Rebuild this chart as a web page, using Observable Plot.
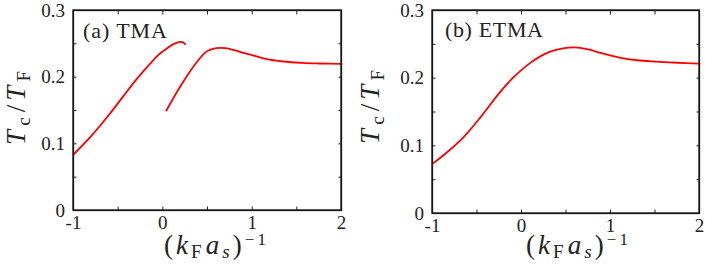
<!DOCTYPE html>
<html>
<head>
<meta charset="utf-8">
<script src="https://cdn.jsdelivr.net/npm/d3@7"></script>
<script src="https://cdn.jsdelivr.net/npm/@observablehq/plot@0.6"></script>
<style>
  html, body { margin: 0; padding: 0; background: #fff; }
  #wrap { display: flex; flex-direction: row; width: 705px; height: 277px; }
  #wrap svg { flex: none; }
</style>
</head>
<body>
<div id="wrap"></div>
<script>
// ---- data ----
const xTicks = [-1, -0.5, 0, 0.5, 1, 1.5, 2];
const xLabels = [-1, 0, 1, 2];
const yTicks = [0, 0.05, 0.1, 0.15, 0.2, 0.25, 0.3];
const yLabels = [0, 0.1, 0.2, 0.3];

const panelTitles = ["(a) TMA", "(b) ETMA"];

// (a) TMA : two branches
const tmaLowX  = [-1, -0.8, -0.6, -0.45, -0.3, -0.15, -0.05, 0.05, 0.12, 0.18, 0.22, 0.25];
const tmaLowY  = [0.084, 0.112, 0.144, 0.170, 0.196, 0.219, 0.2335, 0.2435, 0.2495, 0.2525, 0.2525, 0.2495];
const tmaHighX = [0.04, 0.2, 0.36, 0.48, 0.52, 0.6, 0.7, 0.8, 0.9, 1.0, 1.15, 1.35, 1.55, 1.75, 2.0];
const tmaHighY = [0.150, 0.187, 0.219, 0.2375, 0.2405, 0.2435, 0.2435, 0.2405, 0.2365, 0.2330, 0.2275, 0.2235, 0.2215, 0.2205, 0.2198];

// (b) ETMA
const etmaX = [-1, -0.85, -0.65, -0.45, -0.25, -0.1, 0.1, 0.3, 0.45, 0.6, 0.75, 0.9, 1.1, 1.3, 1.5, 1.75, 2.0];
const etmaY = [0.0733, 0.089, 0.113, 0.144, 0.178, 0.200, 0.2226, 0.238, 0.2435, 0.2455, 0.2425, 0.237, 0.2305, 0.2265, 0.2245, 0.2228, 0.2215];

const zip = (xs, ys, branch) => xs.map((x, i) => ({x, y: ys[i], branch}));
const dataA = [...zip(tmaLowX, tmaLowY, "low"), ...zip(tmaHighX, tmaHighY, "high")];
const dataB = zip(etmaX, etmaY, "one");

const AX = "#222";
const SERIF = "'Liberation Serif', serif";

function panel(data, opts) {
  const svg = Plot.plot({
    width: opts.width,
    height: 277,
    marginLeft: opts.ml,
    marginRight: opts.mr,
    marginTop: opts.mt,
    marginBottom: opts.mb,
    style: "font-family: 'Liberation Serif', serif; font-size: 19px; color: #222;",
    x: {domain: [-1, 2], label: null},
    y: {domain: [0, 0.3], label: null},
    marks: [
      Plot.axisX({ticks: xTicks, tickSize: -3.5, tickPadding: 8,
        tickFormat: d => xLabels.includes(d) ? String(d) : ""}),
      Plot.axisX({anchor: "top", ticks: xTicks, tickSize: -3.5, tickFormat: () => ""}),
      Plot.axisY({ticks: yTicks, tickSize: -3.5, tickPadding: 12,
        tickFormat: d => yLabels.includes(d) ? String(d) : ""}),
      Plot.axisY({anchor: "right", ticks: yTicks, tickSize: -3.5, tickFormat: () => ""}),
      Plot.frame({stroke: AX, strokeWidth: 1.3}),
      Plot.line(data, {x: "x", y: "y", z: "branch", stroke: "#f00", strokeWidth: 1.8, curve: "catmull-rom"})
    ]
  });
  const s = d3.select(svg);

  // box drawn from the plot's own scales
  const xs = svg.scale("x"), ys = svg.scale("y");
  const x0 = xs.apply(-1), x1 = xs.apply(2), y0 = ys.apply(0), y1 = ys.apply(0.3);
  s.append("rect").attr("x", x0).attr("y", y1).attr("width", x1 - x0).attr("height", y0 - y1)
    .attr("fill", "none").attr("stroke", "#111").attr("stroke-width", 1.3);

  // panel title
  s.append("text")
    .attr("x", opts.ml + opts.titleDx).attr("y", opts.titleY)
    .attr("text-anchor", "start")
    .attr("font-family", SERIF).attr("font-size", 22).attr("fill", "#222")
    .attr("textLength", opts.titleLen).attr("lengthAdjust", "spacing")
    .text(opts.title);

  // y label  T_c / T_F
  const yl = s.append("text")
    .attr("transform", `translate(${opts.ylx},${opts.yly}) rotate(-90)`)
    .attr("text-anchor", "middle")
    .attr("font-family", SERIF).attr("font-size", 27).attr("fill", "#222")
    .attr("textLength", 74).attr("lengthAdjust", "spacing");
  yl.append("tspan").attr("font-style", "italic").text("T");
  yl.append("tspan").attr("font-size", 19).attr("dy", 5).text("c");
  yl.append("tspan").attr("dy", -5).attr("dx", 1).text("/");
  yl.append("tspan").attr("font-style", "italic").text("T");
  yl.append("tspan").attr("font-size", 19).attr("dy", 5).text("F");

  // x label  (k_F a_s)^{-1}
  const xl = s.append("text")
    .attr("x", opts.xlx).attr("y", 254)
    .attr("text-anchor", "middle")
    .attr("font-family", SERIF).attr("font-size", 27).attr("fill", "#222")
    .attr("textLength", 102).attr("lengthAdjust", "spacing");
  xl.append("tspan").text("(");
  xl.append("tspan").attr("font-style", "italic").text("k");
  xl.append("tspan").attr("font-size", 19).attr("dy", 4).text("F");
  xl.append("tspan").attr("font-style", "italic").attr("dy", -4).attr("dx", 1).text("a");
  xl.append("tspan").attr("font-style", "italic").attr("font-size", 19).attr("dy", 4).text("s");
  xl.append("tspan").attr("dy", -4).text(")");
  xl.append("tspan").attr("font-size", 17).attr("dy", -9).text("\u22121");

  return svg;
}

const wrap = document.getElementById("wrap");
wrap.appendChild(panel(dataA, {width: 355, ml: 73, mr: 14, mt: 10, mb: 67,
  title: panelTitles[0], titleDx: 10, titleY: 38, titleLen: 84, ylx: 25, yly: 108, xlx: 215}));
wrap.appendChild(panel(dataB, {width: 350, ml: 77, mr: 6, mt: 10, mb: 64,
  title: panelTitles[1], titleDx: 13, titleY: 37, titleLen: 98, ylx: 24, yly: 107, xlx: 222}));
</script>
</body>
</html>
